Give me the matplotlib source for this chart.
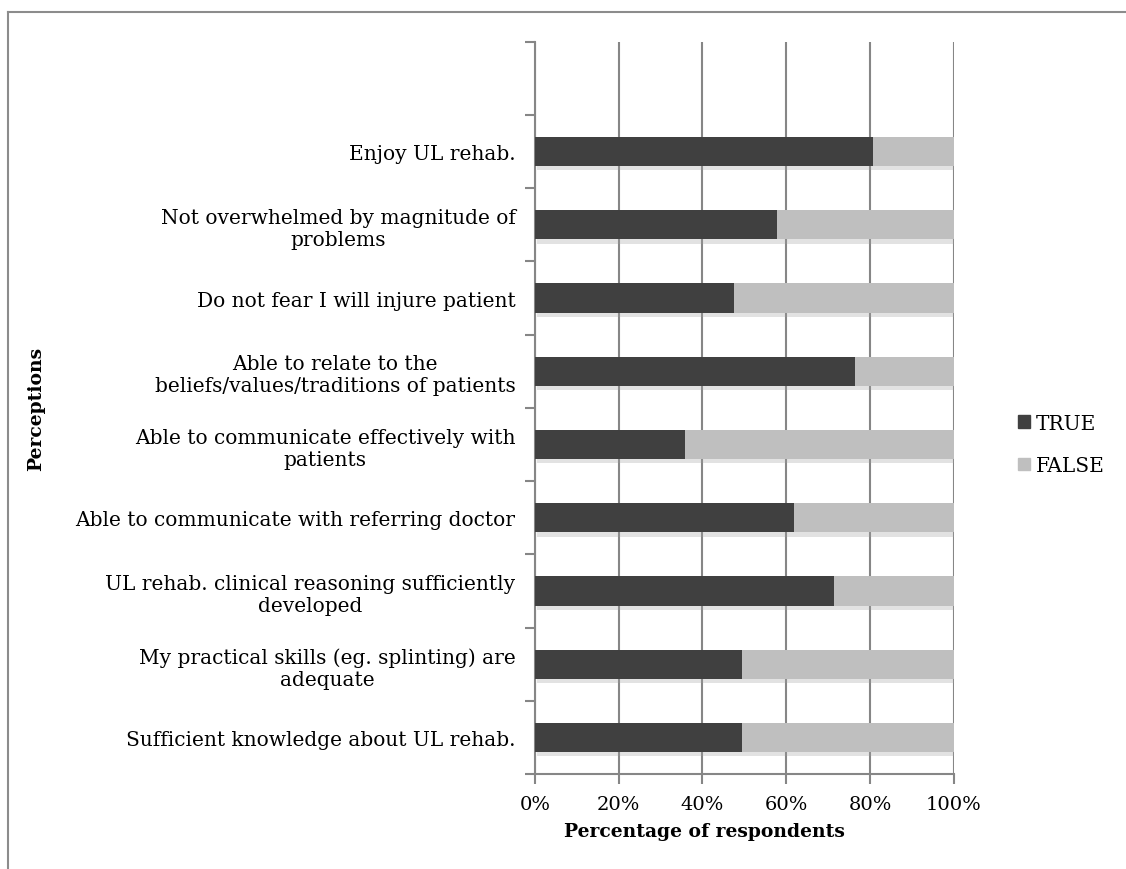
#!/usr/bin/env python3
import matplotlib
matplotlib.use("Agg")
import matplotlib.pyplot as plt
import matplotlib.patheffects as pe
from matplotlib.lines import Line2D
from matplotlib.patches import Patch
from matplotlib.ticker import PercentFormatter
import numpy as np

# Data (bottom to top)
perceptions = [
    "Sufficient knowledge about UL rehab.",
    "My practical skills (eg. splinting) are\nadequate",
    "UL rehab. clinical reasoning sufficiently\ndeveloped",
    "Able to communicate with referring doctor",
    "Able to communicate effectively with\npatients",
    "Able to relate to the\nbeliefs/values/traditions of patients",
    "Do not fear I will injure patient",
    "Not overwhelmed by magnitude of\nproblems",
    "Enjoy UL rehab.",
]
true_pct = [49.4, 49.4, 71.3, 61.8, 35.8, 76.4, 47.6, 57.9, 80.7]
false_pct = [100 - v for v in true_pct]
x_ticks = [0, 20, 40, 60, 80, 100]

plt.rcParams['font.family'] = ['DejaVu Serif']
FS = 14.5

fig = plt.figure(figsize=(11.26, 8.7), dpi=100)
ax = fig.add_axes([0.475, 0.109, 0.372, 0.842])

# Frame lines around the figure (top and left only)
fig.add_artist(Line2D([0.007, 1.0], [0.985, 0.985], transform=fig.transFigure, color="#8c8c8c", lw=1.5))
fig.add_artist(Line2D([0.007, 0.007], [0.0, 0.985], transform=fig.transFigure, color="#8c8c8c", lw=1.5))

Y = np.arange(len(perceptions))
shadow = [pe.SimplePatchShadow(offset=(1.5, -3), shadow_rgbFace="#a0a0a0", alpha=0.3), pe.Normal()]
b1 = ax.barh(Y, true_pct, height=0.4, color="#404040", zorder=3)
b2 = ax.barh(Y, false_pct, left=true_pct, height=0.4, color="#bfbfbf", zorder=3)
for p in list(b1) + list(b2):
    p.set_path_effects(shadow)

ax.set_xlim(0, 100)
ax.set_ylim(-0.5, 9.5)
ax.set_xticks(x_ticks)
ax.xaxis.set_major_formatter(PercentFormatter(decimals=0))
ax.set_yticks(Y)
ax.set_yticklabels(perceptions, fontsize=FS)
for lab in ax.get_yticklabels():
    lab.set_multialignment("center")
ax.set_yticks(np.arange(-0.5, 10.0, 1.0), minor=True)
ax.tick_params(axis="y", which="major", length=0, pad=14)
ax.tick_params(axis="y", which="minor", length=7, width=1.5, color="#868686")
ax.tick_params(axis="x", length=7, width=1.5, color="#868686", labelsize=14, pad=8)

ax.grid(True, axis="x", color="#868686", lw=1.5, zorder=0)
for s in ["top", "right"]:
    ax.spines[s].set_visible(False)
for s in ["left", "bottom"]:
    ax.spines[s].set_color("#868686")
    ax.spines[s].set_linewidth(1.5)

ax.set_xlabel("Percentage of respondents", fontsize=13.5, fontweight="bold")
ax.xaxis.set_label_coords(0.404, -0.065)
ax.set_ylabel("Perceptions", fontsize=13.5, fontweight="bold")
ax.yaxis.set_label_coords(-1.17, 0.5)

handles = [Patch(color="#404040", label="TRUE"), Patch(color="#bfbfbf", label="FALSE")]
ax.legend(handles=handles, loc="center left", bbox_to_anchor=(1.11, 0.45), frameon=False,
          fontsize=FS, handlelength=0.6, handleheight=0.6, handletextpad=0.3, labelspacing=1.15)

fig.savefig("out.png", dpi=100)
